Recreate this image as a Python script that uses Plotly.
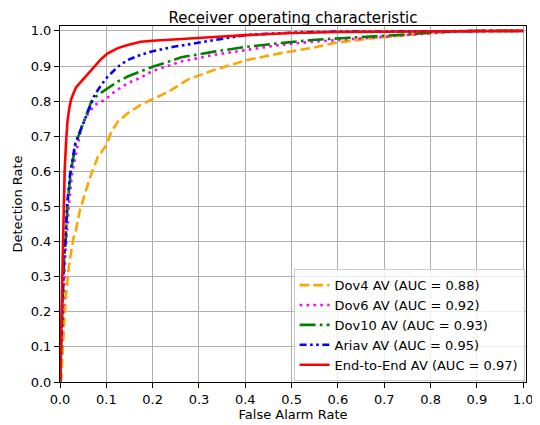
import plotly.graph_objects as go

# Data
dov4_fpr = [0, 0.003, 0.005, 0.008, 0.012, 0.019, 0.024, 0.029, 0.033, 0.043, 0.050, 0.054, 0.068, 0.082, 0.100, 0.111, 0.125, 0.146, 0.174, 0.200, 0.234, 0.277, 0.333, 0.404, 0.474, 0.545, 0.594, 0.665, 0.736, 0.806, 0.850, 0.900, 1.0]
dov4_tpr = [0, 0.010, 0.070, 0.139, 0.234, 0.328, 0.367, 0.410, 0.424, 0.490, 0.519, 0.538, 0.594, 0.642, 0.675, 0.713, 0.742, 0.765, 0.789, 0.806, 0.827, 0.862, 0.889, 0.917, 0.936, 0.952, 0.966, 0.978, 0.987, 0.995, 0.998, 1.0, 1.0]

dov6_fpr = [0, 0.003, 0.006, 0.009, 0.012, 0.016, 0.019, 0.026, 0.040, 0.047, 0.061, 0.075, 0.096, 0.118, 0.146, 0.174, 0.200, 0.245, 0.262, 0.300, 0.333, 0.404, 0.474, 0.545, 0.594, 0.665, 0.736, 0.806, 0.850, 0.900, 1.0]
dov6_tpr = [0, 0.080, 0.180, 0.280, 0.376, 0.450, 0.500, 0.595, 0.685, 0.732, 0.765, 0.789, 0.803, 0.827, 0.851, 0.867, 0.886, 0.905, 0.913, 0.923, 0.932, 0.946, 0.960, 0.969, 0.973, 0.980, 0.987, 0.995, 0.998, 1.0, 1.0]

dov10_fpr = [0, 0.002, 0.004, 0.006, 0.009, 0.013, 0.016, 0.023, 0.034, 0.044, 0.055, 0.068, 0.082, 0.103, 0.125, 0.146, 0.174, 0.200, 0.245, 0.262, 0.333, 0.404, 0.474, 0.545, 0.615, 0.665, 0.736, 0.806, 0.850, 0.900, 1.0]
dov10_tpr = [0, 0.080, 0.170, 0.260, 0.350, 0.420, 0.500, 0.595, 0.680, 0.715, 0.755, 0.800, 0.818, 0.836, 0.856, 0.870, 0.884, 0.898, 0.917, 0.925, 0.941, 0.955, 0.965, 0.974, 0.980, 0.983, 0.989, 0.996, 0.999, 1.0, 1.0]

ariav_fpr = [0, 0.002, 0.004, 0.006, 0.008, 0.012, 0.015, 0.022, 0.033, 0.043, 0.054, 0.065, 0.075, 0.089, 0.103, 0.125, 0.146, 0.174, 0.200, 0.245, 0.262, 0.333, 0.400, 0.450, 0.500, 0.600, 0.700, 0.800, 1.0]
ariav_tpr = [0, 0.080, 0.180, 0.270, 0.350, 0.405, 0.500, 0.595, 0.680, 0.713, 0.751, 0.789, 0.818, 0.846, 0.870, 0.898, 0.917, 0.932, 0.942, 0.955, 0.958, 0.974, 0.988, 0.992, 0.995, 0.998, 0.999, 1.0, 1.0]

e2e_fpr = [0, 0.002, 0.004, 0.006, 0.008, 0.010, 0.013, 0.016, 0.020, 0.024, 0.029, 0.035, 0.047, 0.061, 0.075, 0.089, 0.103, 0.125, 0.146, 0.174, 0.200, 0.245, 0.300, 0.350, 0.400, 0.500, 0.600, 0.700, 0.800, 0.900, 1.0]
e2e_tpr = [0, 0.120, 0.280, 0.400, 0.500, 0.600, 0.680, 0.740, 0.780, 0.805, 0.822, 0.840, 0.858, 0.879, 0.898, 0.920, 0.936, 0.951, 0.960, 0.969, 0.972, 0.975, 0.979, 0.984, 0.988, 0.994, 0.997, 0.998, 0.999, 1.0, 1.0]

names = ["Dov4 AV (AUC = 0.88)", "Dov6 AV (AUC = 0.92)", "Dov10 AV (AUC = 0.93)",
         "Ariav AV (AUC = 0.95)", "End-to-End AV (AUC = 0.97)"]
tick_vals = [0.0, 0.1, 0.2, 0.3, 0.4, 0.5, 0.6, 0.7, 0.8, 0.9, 1.0]

series = [
    (dov4_fpr, dov4_tpr, "orange", "9.6px,4.2px"),
    (dov6_fpr, dov6_tpr, "#FF00FF", "2.6px,4.3px"),
    (dov10_fpr, dov10_tpr, "green", "16px,4.2px,2.6px,4.2px"),
    (ariav_fpr, ariav_tpr, "blue", "7px,3.5px,2.6px,3.5px,2.6px,3.5px"),
    (e2e_fpr, e2e_tpr, "red", "solid"),
]

FONT = "DejaVu Sans"
W, H = 532, 417  # page body has an 8px offset inside the 540x425 window
fig = go.Figure()
for (x, y, c, d), n in zip(series, names):
    fig.add_trace(go.Scatter(x=x, y=y, mode="lines", name=n,
                             line=dict(color=c, width=2.6, dash=d)))

axis_common = dict(
    showline=True, mirror=True, linecolor="black", linewidth=1,
    showgrid=True, gridcolor="#b0b0b0", gridwidth=1,
    ticks="outside", ticklen=5, tickcolor="black", tickwidth=1,
    tickvals=tick_vals, tickformat=".1f", zeroline=False,
    ticklabeloverflow="allow",
    tickfont=dict(family=FONT, size=13, color="black"),
)

fig.update_layout(
    width=W, height=H,
    margin=dict(l=52, r=6, t=18, b=43, pad=0),
    paper_bgcolor="white", plot_bgcolor="white",
    font=dict(family=FONT, size=13, color="black"),
    title=dict(text="Receiver operating characteristic", x=0.5, xref="paper", xanchor="center",
               y=1.0, yanchor="bottom", yref="paper", pad=dict(t=0, b=3),
               font=dict(family=FONT, size=15, color="black")),
    xaxis=dict(range=[0, 1.006], title=dict(text="False Alarm Rate", standoff=3,
               font=dict(family=FONT, size=13)), **axis_common),
    yaxis=dict(range=[0, 1.014], title=dict(text="Detection Rate", standoff=5,
               font=dict(family=FONT, size=13)), **axis_common),
    legend=dict(x=0.997, y=0.317, xanchor="right", yanchor="top",
                bgcolor="rgba(255,255,255,0.8)", bordercolor="#cccccc", borderwidth=1,
                font=dict(family=FONT, size=13, color="black"), tracegroupgap=0),
    showlegend=True,
)

fig.write_html("out.html")
